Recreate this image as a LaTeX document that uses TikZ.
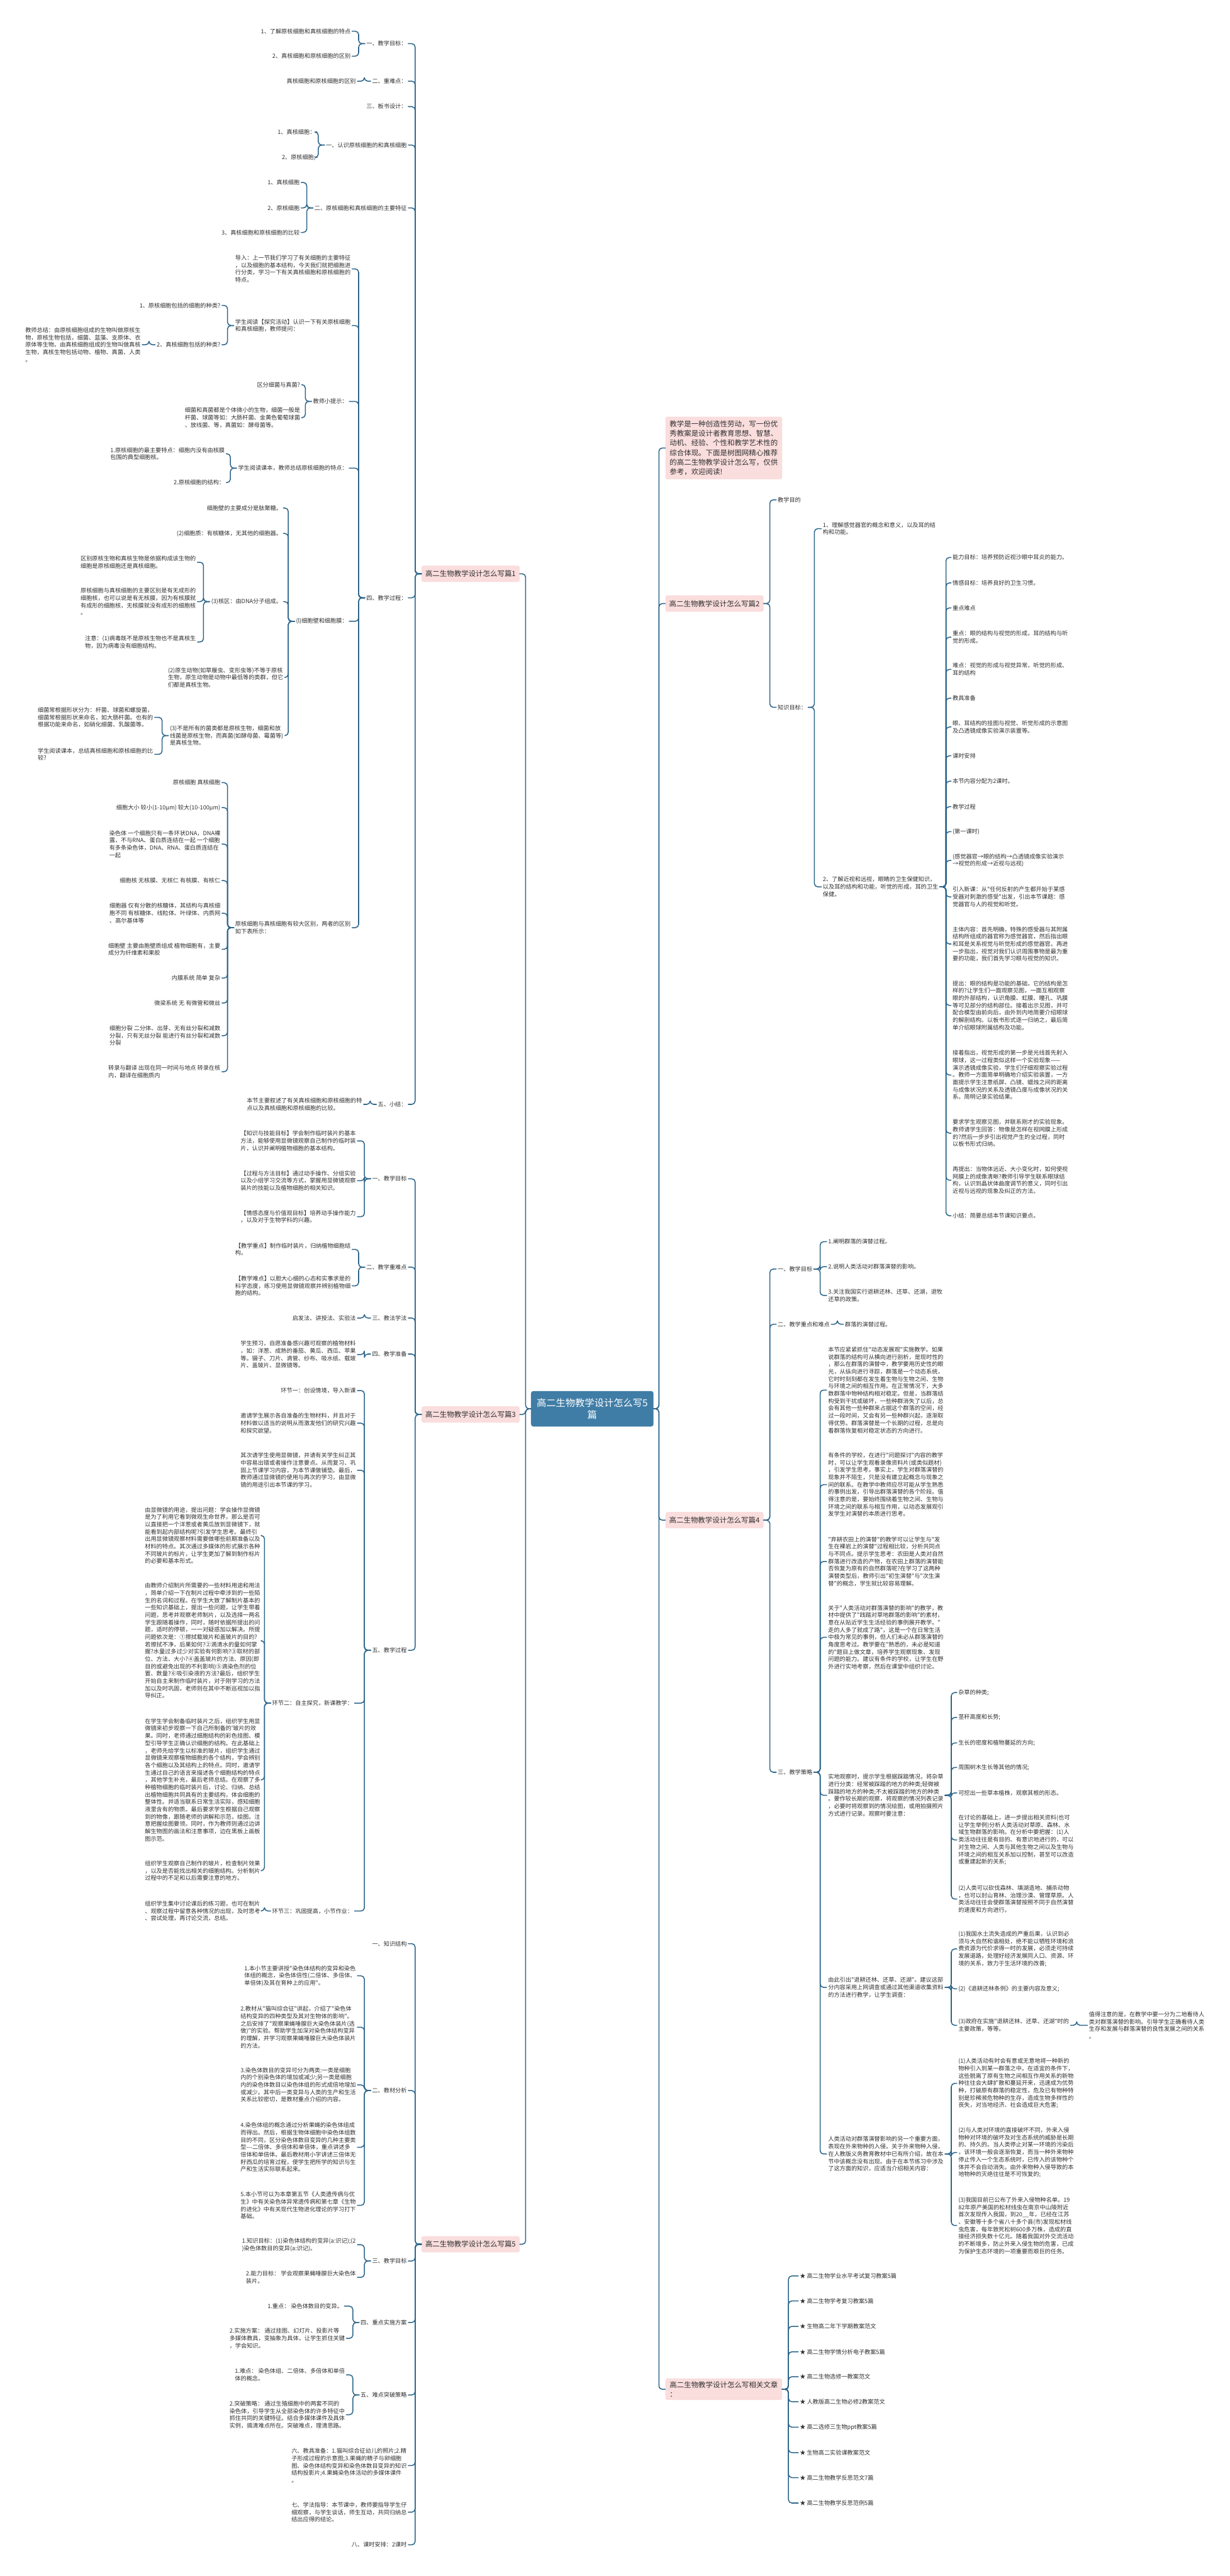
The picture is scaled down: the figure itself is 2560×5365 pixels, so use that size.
\documentclass[tikz,border=0pt]{standalone}
\usepackage{fontspec}
\newfontfamily\zhfont{Noto Sans CJK SC}
\definecolor{linkblue}{RGB}{46,102,138}
\definecolor{rootblue}{RGB}{64,125,166}
\definecolor{branchpink}{RGB}{250,221,221}
\definecolor{textgray}{RGB}{48,48,48}
\tikzset{
  txt/.style={font=\zhfont\fontsize{12}{15.3}\selectfont, text=textgray,
    inner xsep=3pt, inner ysep=2pt, align=left},
  lt/.style={txt, anchor=east},
  rt/.style={txt, anchor=west},
  link/.style={draw=linkblue, line width=2pt, rounded corners=7pt},
  branch/.style={fill=branchpink, rounded corners=4pt, text=textgray,
    font=\zhfont\fontsize{15}{20}\selectfont, inner xsep=8pt, inner ysep=6pt,
    minimum height=34pt, align=left},
  root/.style={fill=rootblue, rounded corners=5pt, text=white,
    font=\zhfont\fontsize{20}{25}\selectfont, align=center,
    inner xsep=12pt, inner ysep=12pt, minimum height=74pt}
}
% bracket links: parent to a list of children
\newcommand{\linkleft}[2]{\foreach \c in {#2} \draw[link] (#1.west) -- ++(-13,0) |- (\c.east);}
\newcommand{\linkright}[2]{\foreach \c in {#2} \draw[link] (#1.east) -- ++(13,0) |- (\c.west);}

\begin{document}
\begin{tikzpicture}[x=1pt, y=-1pt, line cap=round, line join=round]
  \useasboundingbox (0,0) rectangle (2560,5365);
  \fill[white] (0,0) rectangle (2560,5365);

  % Root
  \node[root] (root) at (1233,2934) {高二生物教学设计怎么写5\\篇};

  % Main branches
  \node[branch, anchor=east] (s1) at (1082,1195) {高二生物教学设计怎么写篇1};
  \node[branch, anchor=east] (s3) at (1082,2946) {高二生物教学设计怎么写篇3};
  \node[branch, anchor=east] (s5) at (1082,4674) {高二生物教学设计怎么写篇5};
  \node[branch, anchor=west, inner xsep=9pt, inner ysep=8pt] (intro) at (1385,933)
    {教学是一种创造性劳动，写一份优\\秀教案是设计者教育思想、智慧、\\动机、经验、个性和教学艺术性的\\综合体现。下面是树图网精心推荐\\的高二生物教学设计怎么写，仅供\\参考，欢迎阅读!};
  \node[branch, anchor=west] (s2) at (1385,1257) {高二生物教学设计怎么写篇2};
  \node[branch, anchor=west] (s4) at (1385,3166) {高二生物教学设计怎么写篇4};
  \node[branch, anchor=west, inner xsep=9pt] (rel) at (1385,4976) {高二生物教学设计怎么写相关文章\\：};

  \foreach \c in {s1,s3,s5} \draw[link] (root.west) -- ++(-11,0) |- (\c.east);
  \foreach \c in {intro,s2,s4,rel} \draw[link] (root.east) -- ++(11,0) |- (\c.west);

  % ---------- 篇1 ----------
  \node[lt] (s1a) at (850,91) {一、教学目标：};
  \node[lt] (s1a1) at (733,65) {1、了解原核细胞和真核细胞的特点};
  \node[lt] (s1a2) at (733,117) {2、真核细胞和原核细胞的区别};
  \node[lt] (s1b) at (850,169) {二、重难点：};
  \node[lt] (s1b1) at (744,169) {真核细胞和原核细胞的区别};
  \node[lt] (s1c) at (850,222) {三、板书设计：};
  \node[lt] (s1d) at (850,302) {一、认识原核细胞的和真核细胞};
  \node[lt] (s1d1) at (660,275) {1、真核细胞：};
  \node[lt] (s1d2) at (660,328) {2、原核细胞;};
  \node[lt] (s1e) at (850,433) {二、原核细胞和真核细胞的主要特征};
  \node[lt] (s1e1) at (627,380) {1、真核细胞};
  \node[lt] (s1e2) at (627,433) {2、原核细胞};
  \node[lt] (s1e3) at (627,484) {3、真核细胞和原核细胞的比较};
  \node[lt] (s1f) at (850,1245) {四、教学过程：};
  \node[lt] (s1f1) at (733,560) {导入：上一节我们学习了有关细胞的主要特征\\，以及细胞的基本结构，今天我们就把细胞进\\行分类，学习一下有关真核细胞和原核细胞的\\特点。};
  \node[lt] (s1f2) at (733,678) {学生阅读【探究活动】认识一下有关原核细胞\\和真核细胞，教师提问：};
  \node[lt] (s1f2a) at (462,636) {1、原核细胞包括的细胞的种类?};
  \node[lt] (s1f2b) at (462,718) {2、真核细胞包括的种类?};
  \node[lt] (s1f2b1) at (296,718) {教师总结：由原核细胞组成的生物叫做原核生\\物，原核生物包括，细菌、蓝藻、支原体、衣\\原体等生物。由真核细胞组成的生物叫做真核\\生物，真核生物包括动物、植物、真菌、人类\\。};
  \node[lt] (s1f3) at (727,836) {教师小提示：};
  \node[lt] (s1f3a) at (628,801) {区分细菌与真菌?};
  \node[lt] (s1f3b) at (628,870) {细菌和真菌都是个体微小的生物，细菌一般是\\杆菌、球菌等如：大肠杆菌、金黄色葡萄球菌\\、放线菌、等，真菌如：酵母菌等。};
  \node[lt] (s1f4) at (727,975) {学生阅读课本，教师总结原核细胞的特点：};
  \node[lt] (s1f4a) at (471,945) {1.原核细胞的最主要特点：细胞内没有由核膜\\包围的典型细胞核。};
  \node[lt] (s1f4b) at (471,1005) {2.原核细胞的结构：};
  \node[lt] (s1f5) at (727,1294) {(l)细胞壁和细胞膜：};
  \node[lt] (s1f5a) at (590,1058) {细胞壁的主要成分是肽聚糖。};
  \node[lt] (s1f5b) at (590,1111) {(2)细胞质：有核糖体，无其他的细胞器。};
  \node[lt] (s1f5c) at (590,1253) {(3)核区：由DNA分子组成。};
  \node[lt] (s1f5c1) at (411,1171) {区别原核生物和真核生物是依据构成该生物的\\细胞是原核细胞还是真核细胞。};
  \node[lt] (s1f5c2) at (411,1253) {原核细胞与真核细胞的主要区别是有无成形的\\细胞核，也可以说是有无核膜，因为有核膜就\\有成形的细胞核，无核膜就没有成形的细胞核\\。};
  \node[lt] (s1f5c3) at (411,1337) {注意：(1)病毒既不是原核生物也不是真核生\\物，因为病毒没有细胞结构。};
  \node[lt] (s1f5d) at (593,1411) {(2)原生动物(如草履虫、变形虫等)不等于原核\\生物，原生动物是动物中最低等的类群，但它\\们都是真核生物。};
  \node[lt] (s1f5e) at (593,1532) {(3)不是所有的菌类都是原核生物，细菌和放\\线菌是原核生物，而真菌(如酵母菌、霉菌等)\\是真核生物。};
  \node[lt] (s1f5e1) at (322,1494) {细菌常根据形状分为：杆菌、球菌和螺旋菌，\\细菌常根据形状来命名，如大肠杆菌。也有的\\根据功能来命名，如硝化细菌、乳酸菌等。};
  \node[lt] (s1f5e2) at (322,1571) {学生阅读课本，总结真核细胞和原核细胞的比\\较?};
  \node[lt] (s1f6) at (733,1932) {原核细胞与真核细胞有较大区别，两者的区别\\如下表所示：};
  \node[lt] (s1f6a) at (462,1630) {原核细胞 真核细胞};
  \node[lt] (s1f6b) at (462,1682) {细胞大小 较小(1-10μm) 较大(10-100μm)};
  \node[lt] (s1f6c) at (462,1758) {染色体 一个细胞只有一条环状DNA，DNA裸\\露，不与RNA、蛋白质连结在一起 一个细胞\\有多条染色体，DNA、RNA、蛋白质连结在\\一起};
  \node[lt] (s1f6d) at (462,1834) {细胞核 无核膜、无核仁 有核膜、有核仁};
  \node[lt] (s1f6e) at (462,1902) {细胞器 仅有分散的核糖体，其结构与真核细\\胞不同 有核糖体、线粒体、叶绿体、内质网\\、高尔基体等};
  \node[lt] (s1f6f) at (462,1977) {细胞壁 主要由胞壁质组成 植物细胞有，主要\\成分为纤维素和果胶};
  \node[lt] (s1f6g) at (462,2037) {内膜系统 简单 复杂};
  \node[lt] (s1f6h) at (462,2089) {微梁系统 无 有微管和微丝};
  \node[lt] (s1f6i) at (462,2157) {细胞分裂 二分体、出芽、无有丝分裂和减数\\分裂，只有无丝分裂 能进行有丝分裂和减数\\分裂};
  \node[lt] (s1f6j) at (462,2232) {转录与翻译 出现在同一时间与地点 转录在核\\内，翻译在细胞质内};
  \node[lt] (s1g) at (850,2300) {五、小结：};
  \node[lt] (s1g1) at (757,2300) {本节主要叙述了有关真核细胞和原核细胞的特\\点以及真核细胞和原核细胞的比较。};

  \linkleft{s1}{s1a,s1b,s1c,s1d,s1e,s1f,s1g}
  \linkleft{s1a}{s1a1,s1a2}
  \linkleft{s1b}{s1b1}
  \linkleft{s1d}{s1d1,s1d2}
  \linkleft{s1e}{s1e1,s1e2,s1e3}
  \linkleft{s1f}{s1f1,s1f2,s1f3,s1f4,s1f5,s1f6}
  \linkleft{s1f2}{s1f2a,s1f2b}
  \linkleft{s1f2b}{s1f2b1}
  \linkleft{s1f3}{s1f3a,s1f3b}
  \linkleft{s1f4}{s1f4a,s1f4b}
  \linkleft{s1f5}{s1f5a,s1f5b,s1f5c,s1f5d,s1f5e}
  \linkleft{s1f5c}{s1f5c1,s1f5c2,s1f5c3}
  \linkleft{s1f5e}{s1f5e1,s1f5e2}
  \linkleft{s1f6}{s1f6a,s1f6b,s1f6c,s1f6d,s1f6e,s1f6f,s1f6g,s1f6h,s1f6i,s1f6j}
  \linkleft{s1g}{s1g1}

  % ---------- 篇3 ----------
  \node[lt] (s3a) at (850,2455) {一、教学目标};
  \node[lt] (s3a1) at (744,2376) {【知识与技能目标】学会制作临时装片的基本\\方法，能够使用显微镜观察自己制作的临时装\\片，认识并阐明植物细胞的基本结构。};
  \node[lt] (s3a2) at (744,2459) {【过程与方法目标】通过动手操作、分组实验\\以及小组学习交流等方式，掌握用显微镜观察\\装片的技能以及植物细胞的相关知识。};
  \node[lt] (s3a3) at (744,2534) {【情感态度与价值观目标】培养动手操作能力\\，以及对于生物学科的兴趣。};
  \node[lt] (s3b) at (850,2639) {二、教学重难点};
  \node[lt] (s3b1) at (733,2602) {【教学重点】制作临时装片，归纳植物细胞结\\构。};
  \node[lt] (s3b2) at (733,2678) {【教学难点】以胆大心细的心态和实事求是的\\科学态度，练习使用显微镜观察并辨别植物细\\胞的结构。};
  \node[lt] (s3c) at (850,2745) {三、教法学法};
  \node[lt] (s3c1) at (744,2745) {启发法、讲授法、实验法};
  \node[lt] (s3d) at (850,2820) {四、教学准备};
  \node[lt] (s3d1) at (744,2821) {学生预习，自愿准备感兴趣可观察的植物材料\\，如：洋葱、成熟的番茄、黄瓜、西瓜、苹果\\等。镊子、刀片、滴管、纱布、吸水纸、载玻\\片、盖玻片、显微镜等。};
  \node[lt] (s3e) at (850,3437) {五、教学过程};
  \node[lt] (s3e1) at (744,2896) {环节一：创设情境，导入新课};
  \node[lt] (s3e2) at (744,2964) {邀请学生展示各自准备的生物材料，并且对于\\材料做以适当的说明从而激发他们的研究兴趣\\和探究欲望。};
  \node[lt] (s3e3) at (744,3062) {其次请学生使用显微镜，并请有关学生纠正其\\中容易出错或者操作注意要点。从而复习、巩\\固上节课学习内容，为本节课做铺垫。最后，\\教师通过显微镜的使用与再次的学习，由显微\\镜的用途引出本节课的学习。};
  \node[lt] (s3e4) at (738,3547) {环节二：自主探究，新课教学：};
  \node[lt] (s3e4a) at (545,3198) {由显微镜的用途，提出问题：学会操作显微镜\\是为了利用它看到微观生命世界，那么是否可\\以直接把一个洋葱或者黄瓜放到显微镜下，就\\能看到起内部结构呢?引发学生思考。最终引\\出用显微镜观察材料需要做哪些前期准备以及\\材料的特点。其次通过多媒体的形式展示各种\\不同玻片的标片，让学生更加了解到制作标片\\的必要和基本形式。};
  \node[lt] (s3e4b) at (545,3417) {由教师介绍制片所需要的一些材料用途和用法\\，简单介绍一下在制片过程中牵涉到的一些陌\\生的名词和过程。在学生大致了解制片基本的\\一些知识基础上，提出一些问题，让学生带着\\问题，思考并观察老师制片，以及选择一两名\\学生跟随着操作，同时，随时依据所提出的问\\题，适时的停顿，一一对疑惑加以解决。所提\\问题依次是：①擦拭载玻片和盖玻片的目的?\\若擦拭不净，后果如何?②滴清水的量如何掌\\握?水量过多过少对实验有何影响?③取材的部\\位、方法、大小?④盖盖玻片的方法、原因(即\\目的或避免出现的不利影响)⑤滴染色剂的位\\置、数量?⑥吸引染液的方法?最后，组织学生\\开始自主来制作临时装片，对于刚学习的方法\\加以及时巩固，老师则在其中不断巡视加以指\\导纠正。};
  \node[lt] (s3e4c) at (545,3707) {在学生学会制备临时装片之后，组织学生用显\\微镜来初步观察一下自己所制备的'玻片的效\\果。同时，老师通过细胞结构的彩色挂图、模\\型引导学生正确认识细胞的结构。在此基础上\\，老师先给学生以标准的玻片，组织学生通过\\显微镜来观察植物细胞的各个结构，学会辨别\\各个细胞以及其结构上的特点。同时，邀请学\\生通过自己的语言来描述各个细胞结构的特点\\，其他学生补充，最后老师总结。在观察了多\\种植物细胞的临时装片后，讨论、归纳、总结\\出植物细胞共同具有的主要结构，体会细胞的\\整体性。并适当联系日常生活实际，感知细胞\\液里含有的物质。最后要求学生根据自己观察\\到的物像，跟随老师的讲解和示范，绘图。注\\意把握绘图要领。同时，作为教师则通过边讲\\解生物图的画法和注意事项，边在黑板上画板\\图示范。};
  \node[lt] (s3e4d) at (545,3896) {组织学生观察自己制作的玻片，检查制片效果\\，以及是否能找出相关的细胞结构。分析制片\\过程中的不足和以后需要注意的地方。};
  \node[lt] (s3e5) at (738,3980) {环节三：巩固提高，小节作业：};
  \node[lt] (s3e5a) at (545,3980) {组织学生集中讨论课后的练习题，也可在制片\\、观察过程中留意各种情况的出现，及时思考\\、尝试处理，再讨论交流，总结。};

  \linkleft{s3}{s3a,s3b,s3c,s3d,s3e}
  \linkleft{s3a}{s3a1,s3a2,s3a3}
  \linkleft{s3b}{s3b1,s3b2}
  \linkleft{s3c}{s3c1}
  \linkleft{s3d}{s3d1}
  \linkleft{s3e}{s3e1,s3e2,s3e3,s3e4,s3e5}
  \linkleft{s3e4}{s3e4a,s3e4b,s3e4c,s3e4d}
  \linkleft{s3e5}{s3e5a}

  % ---------- 篇5 ----------
  \node[lt] (s5a) at (850,4048) {一、知识结构};
  \node[lt] (s5b) at (850,4354) {二、教材分析};
  \node[lt] (s5b1) at (744,4115) {1.本小节主要讲授"染色体结构的变异和染色\\体组的概念，染色体倍性(二倍体、多倍体、\\单倍体)及其在育种上的应用"。};
  \node[lt] (s5b2) at (744,4222) {2.教材从"猫叫综合征"讲起，介绍了"染色体\\结构变异的四种类型及其对生物体的影响"。\\之后安排了"观察果蝇唾腺巨大染色体装片(选\\做)"的实验。帮助学生加深对染色体结构变异\\的理解，并学习观察果蝇唾腺巨大染色体装片\\的方法。};
  \node[lt] (s5b3) at (744,4342) {3.染色体数目的变异可分为两类:一类是细胞\\内的个别染色体的增加或减少;另一类是细胞\\内的染色体数目以染色体组的形式成倍地增加\\或减少。其中后一类变异与人类的生产和生活\\关系比较密切，是教材重点介绍的内容。};
  \node[lt] (s5b4) at (744,4472) {4.染色体组的概念通过分析果蝇的染色体组成\\而得出。然后，根据生物体细胞中染色体组数\\目的不同，区分染色体数目变异的几种主要类\\型---二倍体、多倍体和单倍体，重点讲述多\\倍体和单倍体。最后教材用小字讲述三倍体无\\籽西瓜的培育过程，使学生把所学的知识与生\\产和生活实际联系起来。};
  \node[lt] (s5b5) at (744,4593) {5.本小节可以为本章第五节《人类遗传病与优\\生》中有关染色体异常遗传病和第七章《生物\\的进化》中有关现代生物进化理论的学习打下\\基础。};
  \node[lt] (s5c) at (850,4709) {三、教学目标};
  \node[lt] (s5c1) at (744,4675) {1.知识目标：(1)染色体结构的变异(a:识记);(2\\)染色体数目的变异(a:识记)。};
  \node[lt] (s5c2) at (744,4743) {2.能力目标： 学会观察果蝇唾腺巨大染色体\\装片。};
  \node[lt] (s5d) at (850,4837) {四、重点实施方案};
  \node[lt] (s5d1) at (717,4803) {1.重点： 染色体数目的变异。};
  \node[lt] (s5d2) at (721,4870) {2.实施方案： 通过挂图、幻灯片、投影片等\\多媒体教具，变抽象为具体，让学生抓住关键\\，学会知识。};
  \node[lt] (s5e) at (850,4988) {五、难点突破策略};
  \node[lt] (s5e1) at (721,4946) {1.难点： 染色体组、二倍体、多倍体和单倍\\体的概念。};
  \node[lt] (s5e2) at (721,5029) {2.突破策略： 通过生殖细胞中的两套不同的\\染色体，引导学生从全部染色体的许多特征中\\抓住共同的关键特征。结合多媒体课件及具体\\实例，搞清难点所在。突破难点，理清思路。};
  \node[lt] (s5f) at (850,5135) {六、教具准备：1.猫叫综合征幼儿的照片;2.精\\子形成过程的示意图;3.果蝇的精子与卵细胞\\图、染色体结构变异和染色体数目变异的知识\\结构投影片;4.果蝇染色体活动的多媒体课件\\。};
  \node[lt] (s5g) at (850,5232) {七、学法指导：本节课中，教师要指导学生仔\\细观察，与学生谈话，师生互动，共同归纳总\\结出应得的结论。};
  \node[lt] (s5h) at (850,5300) {八、课时安排：2课时};

  \linkleft{s5}{s5a,s5b,s5c,s5d,s5e,s5f,s5g,s5h}
  \linkleft{s5b}{s5b1,s5b2,s5b3,s5b4,s5b5}
  \linkleft{s5c}{s5c1,s5c2}
  \linkleft{s5d}{s5d1,s5d2}
  \linkleft{s5e}{s5e1,s5e2}

  % ---------- 篇2 ----------
  \node[rt] (s2a) at (1616,1041) {教学目的};
  \node[rt] (s2b) at (1616,1473) {知识目标：};
  \node[rt] (s2b1) at (1710,1101) {1、理解感觉器官的概念和意义，以及耳的结\\构和功能。};
  \node[rt] (s2b2) at (1710,1847) {2、了解近视和远视，眼睛的卫生保健知识，\\以及耳的结构和功能，听觉的形成，耳的卫生\\保健。};
  \node[rt] (k1) at (1980,1161) {能力目标：培养预防近视沙眼中耳炎的能力。};
  \node[rt] (k2) at (1980,1214) {情感目标：培养良好的卫生习惯。};
  \node[rt] (k3) at (1980,1266) {重点难点};
  \node[rt] (k4) at (1980,1327) {重点：眼的结构与视觉的形成，耳的结构与听\\觉的形成。};
  \node[rt] (k5) at (1980,1394) {难点：视觉的形成与视觉异常，听觉的形成、\\耳的结构};
  \node[rt] (k6) at (1980,1454) {教具准备};
  \node[rt] (k7) at (1980,1514) {眼、耳结构的挂图与视觉、听觉形成的示意图\\及凸透镜成像实验演示装置等。};
  \node[rt] (k8) at (1980,1574) {课时安排};
  \node[rt] (k9) at (1980,1627) {本节内容分配为2课时。};
  \node[rt] (k10) at (1980,1680) {教学过程};
  \node[rt] (k11) at (1980,1732) {(第一课时)};
  \node[rt] (k12) at (1980,1792) {(感觉器官→眼的结构→凸透镜成像实验演示\\→视觉的形成→近视与远视)};
  \node[rt] (k13) at (1980,1868) {引入新课：从"任何反射的产生都开始于某感\\受器对刺激的感受"出发，引出本节课题：感\\觉器官与人的视觉和听觉。};
  \node[rt] (k14) at (1980,1966) {主体内容：首先明确，特殊的感受器与其附属\\结构所组成的器官称为感觉器官，然后指出眼\\和耳是关系视觉与听觉形成的感觉器官。再进\\一步指出，视觉对我们认识周围事物是最为重\\要的功能，我们首先学习眼与视觉的知识。};
  \node[rt] (k15) at (1980,2094) {提出：眼的结构是功能的基础，它的结构是怎\\样的?让学生们一面观察见图，一面互相观察\\眼的外部结构，认识角膜、虹膜、瞳孔、巩膜\\等可见部分的结构部位。接着出示见图，并可\\配合模型由前向后，由外到内地简要介绍眼球\\的解剖结构。以板书形式逐一归纳之，最后简\\单介绍眼球附属结构及功能。};
  \node[rt] (k16) at (1980,2239) {接着指出，视觉形成的第一步是光线首先射入\\眼球，这一过程类似这样一个实验现象——\\演示透镜成像实验，学生们仔细观察实验过程\\。教师一方面简单明确地介绍实验装置，一方\\面提示学生注意纸屏、凸镜、蜡烛之间的距离\\与成像状况的关系及透镜凸度与成像状况的关\\系。简明记录实验结果。};
  \node[rt] (k17) at (1980,2360) {要求学生观察见图，并联系刚才的实验现象。\\教师请学生回答：物像是怎样在视网膜上形成\\的?然后一步步引出视觉产生的全过程，同时\\以板书形式归纳。};
  \node[rt] (k18) at (1980,2458) {再提出：当物体远近、大小变化时，如何使视\\网膜上的成像清晰?教师引导学生联系眼球结\\构，认识到晶状体曲度调节的意义，同时引出\\近视与远视的现象及纠正的方法。};
  \node[rt] (k19) at (1980,2532) {小结：简要总结本节课知识要点。};

  \linkright{s2}{s2a,s2b}
  \linkright{s2b}{s2b1,s2b2}
  \linkright{s2b2}{k1,k2,k3,k4,k5,k6,k7,k8,k9,k10,k11,k12,k13,k14,k15,k16,k17,k18,k19}

  % ---------- 篇4 ----------
  \node[rt] (s4a) at (1616,2643) {一、教学目标};
  \node[rt] (s4a1) at (1721,2586) {1.阐明群落的演替过程。};
  \node[rt] (s4a2) at (1721,2638) {2.说明人类活动对群落演替的影响。};
  \node[rt] (s4a3) at (1721,2698) {3.关注我国实行退耕还林、还草、还湖，退牧\\还草的政策。};
  \node[rt] (s4b) at (1616,2758) {二、教学重点和难点};
  \node[rt] (s4b1) at (1756,2758) {群落的演替过程。};
  \node[rt] (s4c) at (1616,3691) {三、教学策略};
  \node[rt] (s4c1) at (1721,2895) {本节应紧紧抓住"动态发展观"实施教学。如果\\说群落的结构可从横向进行剖析，是现时性的\\，那么在群落的演替中，教学要用历史性的眼\\光，从纵向进行寻踪，群落是一个动态系统，\\它时时刻刻都在发生着生物与生物之间、生物\\与环境之间的相互作用。在正常情况下，大多\\数群落中物种结构相对稳定。但是，当群落结\\构受到干扰或破坏，一些种群消失了以后，总\\会有其他一些种群来占据这个群落的空间，经\\过一段时间，又会有另一些种群兴起，逐渐取\\得优势。群落演替是一个长期的过程，总是向\\着群落恢复相对稳定状态的方向进行。};
  \node[rt] (s4c2) at (1721,3092) {有条件的学校，在进行"问题探讨"内容的教学\\时，可以让学生观看录像资料片(或类似题材)\\，引发学生思考。事实上，学生对群落演替的\\现象并不陌生，只是没有建立起概念与现象之\\间的联系。在教学中教师应尽可能从学生熟悉\\的事例出发，引导出群落演替的各个阶段。值\\得注意的是，要始终围绕着生物之间、生物与\\环境之间的联系与相互作用，以动态发展观引\\发学生对演替的本质进行思考。};
  \node[rt] (s4c3) at (1721,3252) {"弃耕农田上的演替"的教学可以让学生与"发\\生在裸岩上的演替"过程相比较，分析共同点\\与不同点。提示学生思考：农田是人类对自然\\群落进行改造的产物，在农田上群落的演替能\\否恢复为原有的自然群落呢?在学习了这两种\\演替类型后，教师引出"初生演替"与"次生演\\替"的概念，学生就比较容易理解。};
  \node[rt] (s4c4) at (1721,3410) {关于"人类活动对群落演替的影响"的教学，教\\材中提供了"践踏对草地群落的影响"的素材，\\意在从贴近学生生活经验的事例展开教学。"\\走的人多了就成了路"，这是一个在日常生活\\中极为常见的事例，但人们未必从群落演替的\\角度思考过。教学要在"熟悉的，未必是知道\\的"题目上做文章，培养学生观察现象、发现\\问题的能力。建议有条件的学校，让学生在野\\外进行实地考察，然后在课堂中组织讨论。};
  \node[rt] (s4c5) at (1721,3739) {实地观察时，提示学生根据踩踏情况，将杂草\\进行分类：经常被踩踏的地方的种类;轻微被\\踩踏的地方的种类;不太被踩踏的地方的种类\\。要作较长期的观察，将观察的情况列表记录\\，必要时将观察到的情况绘图，或用拍摄照片\\方式进行记录。观察时要注意：};
  \node[rt] (s4c5a) at (1992,3525) {杂草的种类;};
  \node[rt] (s4c5b) at (1992,3577) {茎秆高度和长势;};
  \node[rt] (s4c5c) at (1992,3630) {生长的密度和植物蔓延的方向;};
  \node[rt] (s4c5d) at (1992,3681) {周围树木生长等其他的情况;};
  \node[rt] (s4c5e) at (1992,3734) {可挖出一些草本植株，观察其根的形态。};
  \node[rt] (s4c5f) at (1992,3832) {在讨论的基础上，进一步提出相关资料(也可\\让学生举例)分析人类活动对草原、森林、水\\域生物群落的影响。在分析中要把握：(1)人\\类活动往往是有目的、有意识地进行的，可以\\对生物之间、人类与其他生物之间以及生物与\\环境之间的相互关系加以控制，甚至可以改造\\或重建起新的关系;};
  \node[rt] (s4c5g) at (1992,3955) {(2)人类可以砍伐森林、填湖造地、捕杀动物\\，也可以封山育林、治理沙漠、管理草原。人\\类活动往往会使群落演替按照不同于自然演替\\的速度和方向进行。};
  \node[rt] (s4c6) at (1721,4139) {由此引出"退耕还林、还草、还湖"。建议这部\\分内容采用上网调查或通过其他渠道收集资料\\的方法进行教学，让学生调查：};
  \node[rt] (s4c6a) at (1992,4059) {(1)我国水土流失造成的严重后果，认识到必\\须与大自然和谐相处，绝不能以牺牲环境和浪\\费资源为代价求得一时的发展，必须走可持续\\发展道路，处理好经济发展同人口、资源、环\\境的关系，致力于生活环境的改善;};
  \node[rt] (s4c6b) at (1992,4142) {(2)《退耕还林条例》的主要内容及意义;};
  \node[rt] (s4c6c) at (1992,4218) {(3)政府在实施"退耕还林、还草、还湖"时的\\主要政策，等等。};
  \node[rt] (s4c6c1) at (2264,4218) {值得注意的是，在教学中要一分为二地看待人\\类对群落演替的影响。引导学生正确看待人类\\生存和发展与群落演替的良性发展之间的关系\\。};
  \node[rt] (s4c7) at (1721,4486) {人类活动对群落演替影响的另一个重要方面，\\表现在外来物种的入侵。关于外来物种入侵，\\在人教版义务教育教材中已有所介绍，故在本\\节中该概念没有出现。由于在本节练习中涉及\\了这方面的知识，应适当介绍相关内容：};
  \node[rt] (s4c7a) at (1992,4339) {(1)人类活动有时会有意或无意地将一种新的\\物种引入到某一群落之中。在适宜的条件下，\\这些脱离了原有生物之间相互作用关系的新物\\种往往会大肆扩散和蔓延开来，迅速成为优势\\种，打破原有群落的稳定性，危及已有物种特\\别是珍稀濒危物种的生存，造成生物多样性的\\丧失，对当地经济、社会造成巨大危害;};
  \node[rt] (s4c7b) at (1992,4483) {(2)与人类对环境的直接破坏不同，外来入侵\\物种对环境的破坏及对生态系统的威胁是长期\\的、持久的。当人类停止对某一环境的污染后\\，该环境一般会逐渐恢复，而当一种外来物种\\停止传入一个生态系统时，已传入的该物种个\\体并不会自动消失。由外来物种入侵导致的本\\地物种的灭绝往往是不可恢复的;};
  \node[rt] (s4c7c) at (1992,4635) {(3)我国目前已公布了外来入侵物种名单。19\\82年原产美国的松材线虫在南京中山陵附近\\首次发现传入我国，到20\_\_年，已经在江苏\\、安徽等十多个省八十多个县(市)发现松材线\\虫危害，每年致死松树600多万株，造成的直\\接经济损失数十亿元。随着我国对外交流活动\\的不断增多，防止外来入侵生物的危害，已成\\为保护生态环境的一项重要而艰巨的任务。};

  \linkright{s4}{s4a,s4b,s4c}
  \linkright{s4a}{s4a1,s4a2,s4a3}
  \linkright{s4b}{s4b1}
  \linkright{s4c}{s4c1,s4c2,s4c3,s4c4,s4c5,s4c6,s4c7}
  \linkright{s4c5}{s4c5a,s4c5b,s4c5c,s4c5d,s4c5e,s4c5f,s4c5g}
  \linkright{s4c6}{s4c6a,s4c6b,s4c6c}
  \linkright{s4c6c}{s4c6c1}
  \linkright{s4c7}{s4c7a,s4c7b,s4c7c}

  % ---------- 相关文章 ----------
  \node[rt] (r1) at (1662,4740) {★ 高二生物学业水平考试复习教案5篇};
  \node[rt] (r2) at (1662,4792) {★ 高二生物学考复习教案5篇};
  \node[rt] (r3) at (1662,4845) {★ 生物高二年下学期教案范文};
  \node[rt] (r4) at (1662,4898) {★ 高二生物学情分析电子教案5篇};
  \node[rt] (r5) at (1662,4950) {★ 高二生物选修一教案范文};
  \node[rt] (r6) at (1662,5002) {★ 人教版高二生物必修2教案范文};
  \node[rt] (r7) at (1662,5055) {★ 高二选修三生物ppt教案5篇};
  \node[rt] (r8) at (1662,5108) {★ 生物高二实验课教案范文};
  \node[rt] (r9) at (1662,5160) {★ 高二生物教学反思范文7篇};
  \node[rt] (r10) at (1662,5213) {★ 高二生物教学反思范例5篇};

  \linkright{rel}{r1,r2,r3,r4,r5,r6,r7,r8,r9,r10}

\end{tikzpicture}
\end{document}
